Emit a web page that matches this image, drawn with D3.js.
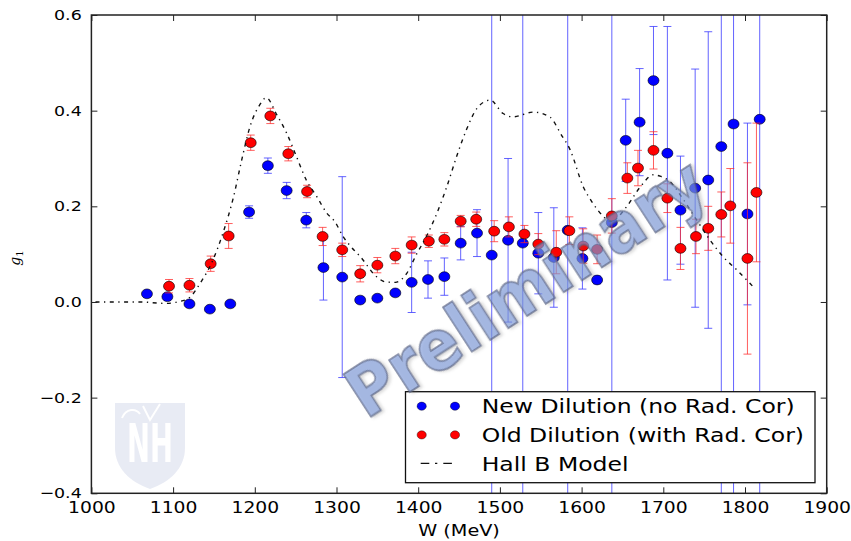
<!DOCTYPE html>
<html>
<head>
<meta charset="utf-8">
<script src="https://cdn.jsdelivr.net/npm/d3@7"></script>
<style>
  html, body { margin: 0; padding: 0; background: #fff; }
  svg { display: block; }
  text { font-family: "DejaVu Sans", sans-serif; }
</style>
</head>
<body>
<svg id="chart" width="851" height="541"></svg>
<script>
// ---- data ----------------------------------------------------------------
// New dilution (no radiative correction)
const newW   = [1068, 1093, 1120, 1145, 1170, 1193, 1216, 1239, 1263, 1284,
                1307, 1329, 1350, 1372, 1392, 1412, 1432, 1452, 1472, 1490,
                1510, 1528, 1547, 1566, 1583, 1601, 1619, 1637, 1654, 1671,
                1688, 1705, 1721, 1739, 1755, 1771, 1786, 1803, 1818];
const newG   = [0.017, 0.011, -0.004, -0.015, -0.004, 0.188, 0.285, 0.233, 0.171, 0.072,
                0.052, 0.004, 0.008, 0.019, 0.041, 0.047, 0.053, 0.123, 0.144, 0.098,
                0.129, 0.123, 0.102, 0.093, 0.150, 0.091, 0.046, 0.166, 0.338, 0.376,
                0.463, 0.311, 0.192, 0.238, 0.255, 0.325, 0.372, 0.184, 0.382];
const newErr = [0.004, 0.004, 0.004, 0.004, 0.004, 0.013, 0.016, 0.017, 0.016, 0.068,
                0.210, 0.004, 0.004, 0.005, 0.063, 0.039, 0.039, 0.035, 0.049, 1.500,
                0.171, 1.500, 0.085, 0.104, 1.500, 0.064, 0.008, 1.500, 0.086, 0.112,
                0.113, 0.265, 0.113, 0.249, 0.310, 1.500, 1.500, 0.190, 1.500];

// Old dilution (with radiative correction)
const oldW   = [1095, 1120, 1146, 1168, 1195, 1219, 1241, 1264, 1283, 1307,
                1329, 1350, 1372, 1392, 1413, 1432, 1452, 1471, 1493, 1511,
                1530, 1547, 1569, 1585, 1602, 1619, 1637, 1656, 1669, 1688,
                1705, 1721, 1740, 1755, 1771, 1782, 1803, 1814];
const oldG   = [0.033, 0.035, 0.080, 0.138, 0.333, 0.389, 0.310, 0.231, 0.137, 0.109,
                0.059, 0.077, 0.096, 0.119, 0.127, 0.131, 0.169, 0.173, 0.148, 0.157,
                0.142, 0.121, 0.104, 0.149, 0.117, 0.110, 0.180, 0.259, 0.280, 0.317,
                0.217, 0.112, 0.137, 0.154, 0.183, 0.201, 0.091, 0.229];
const oldErr = [0.014, 0.014, 0.016, 0.026, 0.016, 0.016, 0.015, 0.013, 0.019, 0.014,
                0.017, 0.016, 0.016, 0.017, 0.013, 0.014, 0.012, 0.015, 0.022, 0.021,
                0.018, 0.022, 0.045, 0.029, 0.036, 0.030, 0.036, 0.032, 0.037, 0.039,
                0.030, 0.044, 0.036, 0.046, 0.047, 0.078, 0.200, 0.145];

// Hall B model curve
const modelW = [1005, 1060, 1090, 1105, 1120, 1133, 1147, 1161, 1174, 1184,
                1194, 1206, 1214, 1227, 1239, 1251, 1263, 1276, 1288, 1298,
                1308, 1318, 1329, 1349, 1360, 1372, 1386, 1398, 1410, 1423,
                1435, 1447, 1459, 1472, 1488, 1504, 1516, 1541, 1561, 1575,
                1586, 1602, 1614, 1626, 1636, 1655, 1672, 1688, 1696, 1708,
                1725, 1741, 1757, 1773, 1790, 1806, 1812];
const modelG = [0.000, 0.000, -0.003, 0.000, 0.009, 0.039, 0.081, 0.144, 0.220, 0.297,
                0.366, 0.412, 0.427, 0.391, 0.353, 0.304, 0.255, 0.220, 0.186, 0.168,
                0.137, 0.115, 0.095, 0.053, 0.042, 0.041, 0.060, 0.100, 0.137, 0.186,
                0.241, 0.304, 0.360, 0.405, 0.422, 0.394, 0.387, 0.397, 0.387, 0.350,
                0.318, 0.241, 0.206, 0.180, 0.168, 0.199, 0.241, 0.266, 0.263, 0.252,
                0.213, 0.171, 0.130, 0.095, 0.067, 0.039, 0.028];

const xTicks = [1000, 1100, 1200, 1300, 1400, 1500, 1600, 1700, 1800, 1900];
const yTicks = [-0.4, -0.2, 0.0, 0.2, 0.4, 0.6];

const legendLabels = ["New Dilution (no Rad. Cor)", "Old Dilution (with Rad. Cor)", "Hall B Model"];

// ---- layout ---------------------------------------------------------------
const L = 91.4, R = 826.7, T = 15, B = 493.3;
const svg = d3.select("#chart");

const x = d3.scaleLinear().domain([1000, 1900]).range([L, R]);
const y = d3.scaleLinear().domain([-0.4, 0.6]).range([B, T]);

// widen text horizontally by factor k (the figure's type is drawn slightly wide)
function widen(sel, k) {
  sel.each(function () {
    const w = this.getComputedTextLength();
    this.setAttribute("textLength", (w * k).toFixed(2));
    this.setAttribute("lengthAdjust", "spacingAndGlyphs");
  });
}

const defs = svg.append("defs");
defs.append("clipPath").attr("id", "plotClip")
  .append("rect").attr("x", L).attr("y", T).attr("width", R - L).attr("height", B - T);
const shadow = defs.append("filter").attr("id", "wmShadow")
  .attr("x", "-10%").attr("y", "-10%").attr("width", "130%").attr("height", "130%");
shadow.append("feDropShadow").attr("dx", 2).attr("dy", 2).attr("stdDeviation", 1.6)
  .attr("flood-color", "#666").attr("flood-opacity", 0.35);

// ---- university shield emblem (faint) -----------------------------------
const logo = svg.append("g").attr("opacity", 0.9);
logo.append("path")
  .attr("d", "M115,403 L185,403 L185,448 C185,468 170,482 150,489 C130,482 115,468 115,448 Z")
  .attr("fill", "#e6e9f3");
logo.append("text").attr("x", 150).attr("y", 462).attr("text-anchor", "middle")
  .style("font-size", "54px").style("font-weight", "bold").style("fill", "#ffffff")
  .attr("textLength", 46).attr("lengthAdjust", "spacingAndGlyphs").text("NH");
logo.append("path")
  .attr("d", "M122,418 C126,408 136,408 140,414 M143,406 L150,420 L160,404")
  .attr("fill", "none").attr("stroke", "#ffffff").attr("stroke-width", 2);

// ---- data layer -------------------------------------------------------------
const plot = svg.append("g").attr("clip-path", "url(#plotClip)");

function drawErrors(W, G, E, color) {
  const g = plot.append("g").attr("stroke", color).attr("stroke-width", 1).attr("fill", "none");
  W.forEach((w, i) => {
    const cx = x(w), y1 = y(G[i] - E[i]), y2 = y(G[i] + E[i]);
    g.append("line").attr("x1", cx).attr("x2", cx).attr("y1", y1).attr("y2", y2);
    g.append("line").attr("x1", cx - 4).attr("x2", cx + 4).attr("y1", y1).attr("y2", y1);
    g.append("line").attr("x1", cx - 4).attr("x2", cx + 4).attr("y1", y2).attr("y2", y2);
  });
}
function drawPoints(W, G, color) {
  plot.append("g").selectAll("ellipse").data(W).join("ellipse")
    .attr("cx", d => x(d)).attr("cy", (d, i) => y(G[i]))
    .attr("rx", 5.5).attr("ry", 4.9)
    .attr("fill", color).attr("stroke", "#000").attr("stroke-width", 0.6);
}

drawErrors(newW, newG, newErr, "rgba(60,60,255,0.8)");
drawPoints(newW, newG, "#0000ff");
drawErrors(oldW, oldG, oldErr, "rgba(255,40,40,0.75)");
drawPoints(oldW, oldG, "#ff0000");

const modelLine = d3.line().x(d => x(d[0])).y(d => y(d[1])).curve(d3.curveMonotoneX);
plot.append("path")
  .datum(modelW.map((w, i) => [w, modelG[i]]))
  .attr("d", modelLine)
  .attr("fill", "none").attr("stroke", "#111").attr("stroke-width", 1.4)
  .attr("stroke-dasharray", "4,4.5,1.3,4.5");

// ---- axes -----------------------------------------------------------------
const xAxis = svg.append("g").attr("transform", `translate(0,${B})`)
  .call(d3.axisBottom(x).tickValues(xTicks).tickSize(-6).tickSizeOuter(0).tickPadding(8.6)
    .tickFormat(d3.format("d")));
svg.append("g").attr("transform", `translate(0,${T})`)
  .call(d3.axisTop(x).tickValues(xTicks).tickSize(-6).tickSizeOuter(0).tickFormat(""));
const yAxis = svg.append("g").attr("transform", `translate(${L},0)`)
  .call(d3.axisLeft(y).tickValues(yTicks).tickSize(-6).tickSizeOuter(0).tickPadding(9.7)
    .tickFormat(d3.format(".1f")));
svg.append("g").attr("transform", `translate(${R},0)`)
  .call(d3.axisRight(y).tickValues(yTicks).tickSize(-6).tickSizeOuter(0).tickFormat(""));

svg.selectAll(".domain").remove();
svg.selectAll(".tick line").attr("stroke", "#222").attr("stroke-width", 1);
xAxis.selectAll("text").style("font-size", "16px").style("font-family", "DejaVu Sans").style("fill", "#000");
yAxis.selectAll("text").style("font-size", "14.5px").style("font-family", "DejaVu Sans").style("fill", "#000");
widen(xAxis.selectAll("text"), 1.17);
widen(yAxis.selectAll("text"), 1.2);

svg.append("rect").attr("x", L).attr("y", T).attr("width", R - L).attr("height", B - T)
  .attr("fill", "none").attr("stroke", "#222").attr("stroke-width", 1.5);

// axis titles
const xTitle = svg.append("text").attr("x", (L + R) / 2).attr("y", 535.5)
  .attr("text-anchor", "middle").style("font-size", "16px").style("fill", "#000").text("W (MeV)");
widen(xTitle, 1.2);

const yTitle = svg.append("text").attr("transform", "translate(20,258) rotate(-90)")
  .attr("text-anchor", "middle").style("fill", "#000")
  .style("font-family", "DejaVu Serif").style("font-style", "italic").style("font-size", "14px");
yTitle.append("tspan").text("g");
yTitle.append("tspan").attr("dy", 3).style("font-size", "10px").style("font-style", "normal").text("1");

// ---- legend ---------------------------------------------------------------
const leg = svg.append("g");
leg.append("rect").attr("x", 405.5).attr("y", 391.7).attr("width", 409.5).attr("height", 91)
  .attr("fill", "#fff").attr("stroke", "#111").attr("stroke-width", 1.3);
const rowY = [406.2, 434.9, 463.4];
const legColors = ["#0000ff", "#ff0000"];
legColors.forEach((c, i) => {
  [421.7, 455].forEach(cx => {
    leg.append("ellipse").attr("cx", cx).attr("cy", rowY[i]).attr("rx", 4.6).attr("ry", 4.1)
      .attr("fill", c).attr("stroke", "#000").attr("stroke-width", 0.4);
  });
});
leg.append("line").attr("x1", 420.7).attr("x2", 452).attr("y1", rowY[2]).attr("y2", rowY[2])
  .attr("stroke", "#111").attr("stroke-width", 1.4).attr("stroke-dasharray", "8.6,5.7,2.3,6");
const legText = leg.selectAll("text.lab").data(legendLabels).join("text").attr("class", "lab")
  .attr("x", 481.7).attr("y", (d, i) => rowY[i] + 7.1)
  .style("font-size", "19.6px").style("fill", "#000").text(d => d);
widen(legText, 1.2);

// ---- watermark --------------------------------------------------------------
svg.append("text")
  .attr("transform", "translate(526,288) rotate(-33)")
  .attr("text-anchor", "middle").attr("dominant-baseline", "central")
  .style("font-family", "DejaVu Sans").style("font-weight", "bold").style("font-size", "70px")
  .attr("textLength", 412).attr("lengthAdjust", "spacingAndGlyphs")
  .style("fill", "rgba(125,155,222,0.6)").style("stroke", "rgba(90,100,130,0.65)")
  .style("stroke-width", "1.8px").attr("filter", "url(#wmShadow)")
  .text("Preliminary");
</script>
</body>
</html>
